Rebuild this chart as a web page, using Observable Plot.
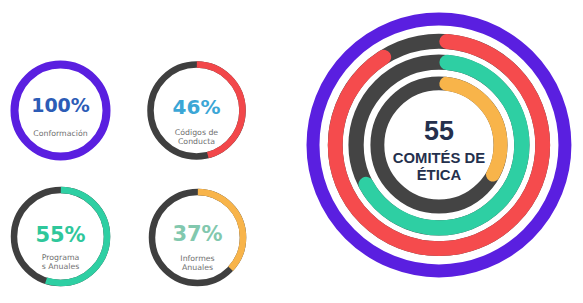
<!DOCTYPE html>
<html><head><meta charset="utf-8">
<script src="https://cdn.jsdelivr.net/npm/d3@7"></script>
<script src="https://cdn.jsdelivr.net/npm/@observablehq/plot@0.6"></script>
<style>
html,body{margin:0;padding:0;background:#fff;}
#wrap{position:relative;width:583px;height:303px;overflow:hidden;background:#fff;}
#wrap > div{position:absolute;}
</style></head><body><div id="wrap"></div>
<script>
// ---- data ----
const smallLabels = ["Conformación", "Códigos de\nConducta", "Programa\ns Anuales", "Informes\nAnuales"];
const smallPercents = [100, 46, 55, 37];
const smallColors = ["#5a1fe0", "#f2474a", "#2ecfa3", "#f8b44a"];
const smallTextColors = ["#2c5cb6", "#3ba6d6", "#2fc79b", "#82c8ae"];
const bigCount = "55";
const bigTitle = "COMITÉS DE\nÉTICA";
const bigRingFractions = [0.91, 0.67, 0.33];
const bigRingColors = ["#f54b4d", "#2ecfa3", "#f8b44a"];
const outerColor = "#5a1fe0";
const trackColor = "#444444";

// ---- layout (pixels) ----
const smallLayout = [
  {cx: 60, cy: 110, r: 46, w: 8, pctDy: -5, pctSize: 19, labDy: 23},
  {cx: 196, cy: 110, r: 46, w: 6.5, pctDy: -3, pctSize: 20, labDy: 26},
  {cx: 60, cy: 236, r: 46.5, w: 6.5, pctDy: -1, pctSize: 21, labDy: 25},
  {cx: 197, cy: 237, r: 45.5, w: 6.5, pctDy: -3, pctSize: 21, labDy: 25}
];
const bigLayout = {cx: 450, cy: 156, outerR: 136, outerW: 14, radii: [112, 89.5, 66.5], widths: [16, 16.5, 15]};

const wrap = document.getElementById("wrap");
const at0 = () => 0;

function ring(r, w, frac, color, track, roundCap) {
  const C = 2 * Math.PI * r;
  const marks = [];
  if (track) marks.push(Plot.dot([0], {x: at0, y: at0, r, fill: "none", stroke: track, strokeWidth: w}));
  if (frac >= 1) {
    marks.push(Plot.dot([frac], {x: at0, y: at0, r, fill: "none", stroke: color, strokeWidth: w}));
  } else {
    const s0 = roundCap ? w / 2 : 0;
    const L = frac * C - s0;
    marks.push(Plot.dot([frac], {
      x: at0, y: at0, r, fill: "none", stroke: color, strokeWidth: w,
      strokeDasharray: `${L} ${C - L}`, strokeDashoffset: 0.25 * C - s0,
      strokeLinecap: roundCap ? "round" : "butt"
    }));
  }
  return marks;
}

function place(svg, cx, cy, S) {
  const div = document.createElement("div");
  div.style.left = (cx - S / 2) + "px";
  div.style.top = (cy - S / 2) + "px";
  div.appendChild(svg);
  wrap.appendChild(div);
}

function base(S, marks) {
  return Plot.plot({
    width: S, height: S, margin: 0,
    x: {domain: [-1, 1], axis: null},
    y: {domain: [-1, 1], axis: null},
    style: {background: "transparent", overflow: "visible"},
    marks
  });
}

smallPercents.forEach((p, i) => {
  const L = smallLayout[i];
  const S = 110;
  const marks = [
    ...ring(L.r, L.w, p / 100, smallColors[i], p < 100 ? "#3f3f3f" : null, false),
    Plot.text([p + "%"], {x: at0, y: at0, text: d => d, dy: L.pctDy, fill: smallTextColors[i],
      fontSize: L.pctSize, fontFamily: "DejaVu Sans", fontWeight: "bold", letterSpacing: 0.6, textAnchor: "middle"}),
    Plot.text([smallLabels[i]], {x: at0, y: at0, text: d => d, dy: L.labDy, fill: "#707070",
      fontSize: 7.8, fontFamily: "DejaVu Sans", lineHeight: 1.15, letterSpacing: 0.2, textAnchor: "middle"})
  ];
  place(base(S, marks), L.cx, L.cy, S);
});

{
  const B = bigLayout;
  const S = 312;
  const marks = [
    ...ring(B.outerR, B.outerW, 1, outerColor, null, false),
    ...bigRingFractions.flatMap((f, i) => ring(B.radii[i], B.widths[i], f, bigRingColors[i], trackColor, true)),
    Plot.text([bigCount], {x: at0, y: at0, text: d => d, dy: -15, fill: "#24304d",
      fontSize: 29, fontWeight: "bold", fontFamily: "Liberation Sans", textAnchor: "middle"}),
    Plot.text([bigTitle], {x: at0, y: at0, text: d => d, dy: 23, fill: "#24304d",
      fontSize: 16, fontWeight: "bold", fontFamily: "Liberation Sans", letterSpacing: -0.7, lineHeight: 1.12, textAnchor: "middle"})
  ];
  place(base(S, marks), B.cx, B.cy, S);
}
</script></body></html>
